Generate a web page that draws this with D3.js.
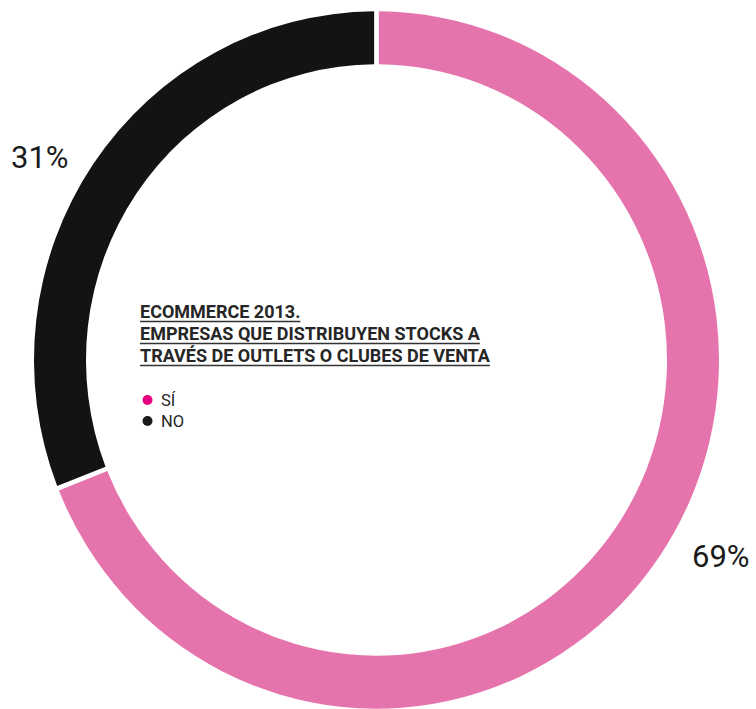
<!DOCTYPE html>
<html>
<head>
<meta charset="utf-8">
<script src="https://d3js.org/d3.v7.min.js"></script>
<style>
  body { margin: 0; background: #fff; }
  svg { display: block; }
</style>
</head>
<body>
<script>

// datos
var categorias = ["SÍ", "NO"];
var valores = [69, 31];
var etiquetas = ["69%", "31%"];
var colores = ["#e574ad", "#131316"];
var coloresLeyenda = ["#e6007e", "#1a1a1a"];
var titulo = ["ECOMMERCE 2013.", "EMPRESAS QUE DISTRIBUYEN STOCKS A", "TRAVÉS DE OUTLETS O CLUBES DE VENTA"];

var width = 756, height = 709;
var cx = 376.5, cy = 360;
var outerR = 342.5, innerR = 290.5;

var svg = d3.select("body").append("svg").attr("width", width).attr("height", height);

var pie = d3.pie().sort(null).value(function(d) { return d; });
var arc = d3.arc().innerRadius(innerR).outerRadius(outerR).padAngle(0.0105);

//el anillo esta un poco estirado en vertical
var ring = svg.append("g").attr("transform", "translate(" + cx + "," + cy + ") scale(1,1.018)");

ring.selectAll("path")
  .data(pie(valores))
  .enter().append("path")
  .attr("d", arc)
  .attr("fill", function(d, i) { return colores[i]; });

// porcentajes
var posEtiquetas = [[692, 567], [11, 168]];
svg.selectAll("text.pct")
  .data(etiquetas)
  .enter().append("text")
  .attr("class", "pct")
  .attr("x", function(d, i) { return posEtiquetas[i][0]; })
  .attr("y", function(d, i) { return posEtiquetas[i][1]; })
  .attr("font-family", "Roboto, sans-serif")
  .attr("font-size", 31)
  .attr("fill", "#1a1a1a")
  .text(function(d) { return d; });

// titulo subrayado
var t = svg.append("g");
titulo.forEach(function(linea, i) {
  var y = 318 + i * 22;
  t.append("text")
    .attr("x", 140).attr("y", y)
    .attr("font-family", "Roboto, sans-serif")
    .attr("font-weight", "bold")
    .attr("font-size", 18)
    .attr("fill", "#262626")
    .text(linea);
});
t.selectAll("text").each(function(d, i) {
  var w = this.getComputedTextLength();
  var y = +d3.select(this).attr("y");
  t.append("line")
    .attr("x1", 140).attr("x2", 140 + w)
    .attr("y1", y + 3.5).attr("y2", y + 3.5)
    .attr("stroke", "#333").attr("stroke-width", 1.5);
});

// leyenda
var ley = svg.append("g");
categorias.forEach(function(c, i) {
  var y = 400 + i * 21;
  ley.append("circle")
    .attr("cx", 147.5).attr("cy", y)
    .attr("r", 5)
    .attr("fill", coloresLeyenda[i]);
  ley.append("text")
    .attr("x", 161).attr("y", y + 6)
    .attr("font-family", "Roboto, sans-serif")
    .attr("font-size", 16.5)
    .attr("fill", "#262626")
    .text(c);
});

</script>
</body>
</html>
